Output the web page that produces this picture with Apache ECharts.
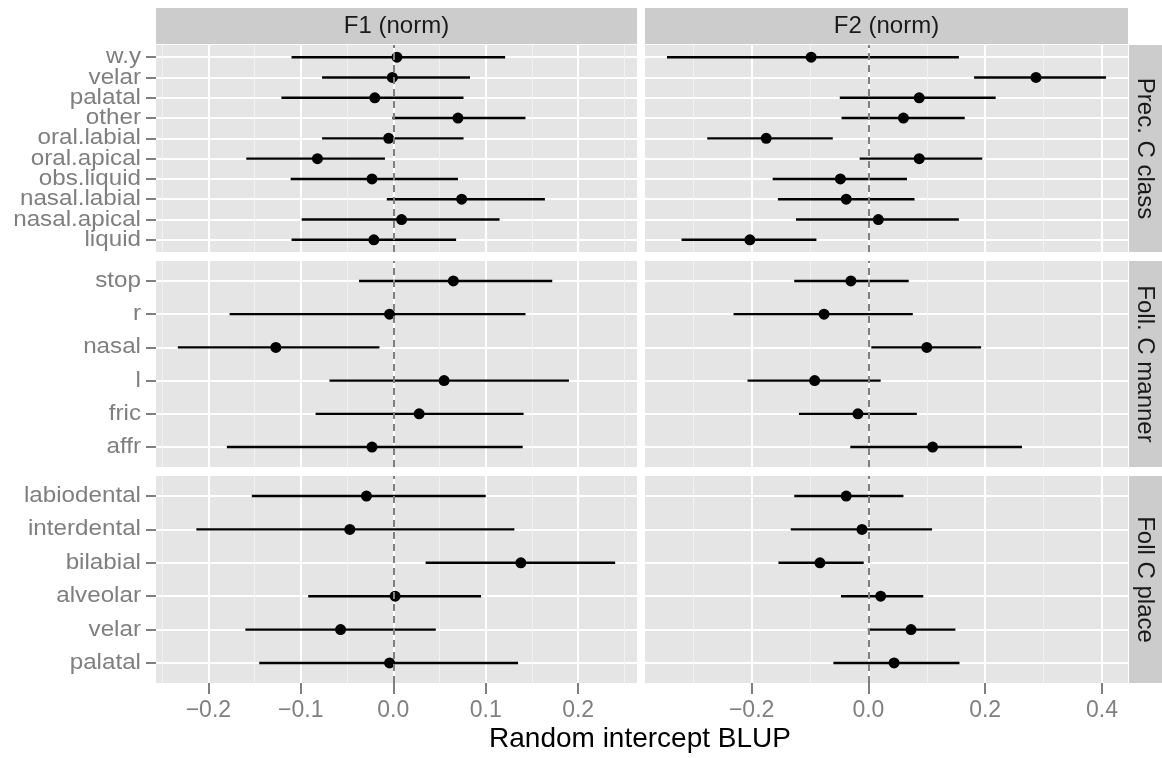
<!DOCTYPE html>
<html>
<head>
<meta charset="utf-8">
<script src="https://cdn.jsdelivr.net/npm/echarts@6/dist/echarts.min.js"></script>
<style>
  html, body { margin: 0; padding: 0; background: #fff; }
  #chart { width: 1162px; height: 758px; }
</style>
</head>
<body>
<div id="chart"></div>
<script>
// facet rows, categories listed bottom -> top
const classCats = ['liquid', 'nasal.apical', 'nasal.labial', 'obs.liquid', 'oral.apical', 'oral.labial', 'other', 'palatal', 'velar', 'w.y'];
const classF1Est = [-0.021, 0.009, 0.074, -0.023, -0.082, -0.005, 0.070, -0.020, -0.001, 0.004];
const classF1Lo  = [-0.110, -0.099, -0.007, -0.111, -0.159, -0.077, -0.001, -0.121, -0.077, -0.110];
const classF1Hi  = [0.068, 0.115, 0.164, 0.070, -0.009, 0.076, 0.143, 0.076, 0.083, 0.121];
const classF2Est = [-0.203, 0.017, -0.038, -0.048, 0.087, -0.175, 0.060, 0.087, 0.287, -0.098];
const classF2Lo  = [-0.320, -0.124, -0.155, -0.164, -0.015, -0.276, -0.046, -0.049, 0.181, -0.345];
const classF2Hi  = [-0.089, 0.155, 0.079, 0.066, 0.195, -0.061, 0.165, 0.218, 0.407, 0.155];

const mannerCats = ['affr', 'fric', 'l', 'nasal', 'r', 'stop'];
const mannerF1Est = [-0.023, 0.028, 0.055, -0.127, -0.004, 0.065];
const mannerF1Lo  = [-0.180, -0.084, -0.069, -0.233, -0.177, -0.037];
const mannerF1Hi  = [0.140, 0.141, 0.190, -0.015, 0.143, 0.172];
const mannerF2Est = [0.110, -0.018, -0.092, 0.100, -0.076, -0.030];
const mannerF2Lo  = [-0.031, -0.119, -0.207, 0.005, -0.231, -0.127];
const mannerF2Hi  = [0.263, 0.083, 0.021, 0.193, 0.076, 0.069];

const placeCats = ['palatal', 'velar', 'alveolar', 'bilabial', 'interdental', 'labiodental'];
const placeF1Est = [-0.004, -0.057, 0.002, 0.138, -0.047, -0.029];
const placeF1Lo  = [-0.145, -0.160, -0.092, 0.035, -0.213, -0.153];
const placeF1Hi  = [0.135, 0.046, 0.095, 0.240, 0.131, 0.100];
const placeF2Est = [0.044, 0.073, 0.021, -0.083, -0.011, -0.038];
const placeF2Lo  = [-0.060, -0.001, -0.047, -0.154, -0.133, -0.127];
const placeF2Hi  = [0.156, 0.149, 0.094, -0.008, 0.109, 0.060];

const colTitles = ['F1 (norm)', 'F2 (norm)'];
const rowTitles = ['Prec. C class', 'Foll. C manner', 'Foll C place'];
const f1Ticks = [-0.2, -0.1, 0, 0.1, 0.2];
const f2Ticks = [-0.2, 0, 0.2, 0.4];

const rows = [
  { cats: classCats, cols: [[classF1Est, classF1Lo, classF1Hi], [classF2Est, classF2Lo, classF2Hi]] },
  { cats: mannerCats, cols: [[mannerF1Est, mannerF1Lo, mannerF1Hi], [mannerF2Est, mannerF2Lo, mannerF2Hi]] },
  { cats: placeCats, cols: [[placeF1Est, placeF1Lo, placeF1Hi], [placeF2Est, placeF2Lo, placeF2Hi]] }
];
const colTicks = [f1Ticks, f2Ticks];

// layout (px)
const colLeft = [156, 645];
const colWidth = [481, 483];
const rowTop = [45, 261, 476];
const rowHeight = [207, 206, 207];

const FONT = 'Liberation Sans';
const GREY = '#7f7f7f';

// x limits per column, ggplot style 5% expansion
const colRange = [0, 1].map(c => {
  let lo = Infinity, hi = -Infinity;
  rows.forEach(r => {
    lo = Math.min(lo, ...r.cols[c][1]);
    hi = Math.max(hi, ...r.cols[c][2]);
  });
  const pad = (hi - lo) * 0.05;
  return [lo - pad, hi + pad];
});

const fmtX = v => (v < 0 ? '\u2212' : '') + Math.abs(v).toFixed(1);

const grid = [], xAxis = [], yAxis = [], series = [], graphic = [];

rows.forEach((row, r) => {
  [0, 1].forEach(c => {
    const g = r * 2 + c;
    const bottom = r === rows.length - 1;
    const left = c === 0;
    grid.push({
      left: colLeft[c], top: rowTop[r], width: colWidth[c], height: rowHeight[r],
      show: true, backgroundColor: '#e5e5e5', borderWidth: 0
    });
    xAxis.push({
      gridIndex: g, type: 'value', position: 'bottom',
      min: colRange[c][0], max: colRange[c][1], splitNumber: 5,
      axisLine: { show: false, onZero: false },
      axisTick: { show: bottom, inside: false, length: 11, customValues: colTicks[c], lineStyle: { color: GREY, width: 2 } },
      axisLabel: { show: bottom, customValues: colTicks[c], color: GREY, fontSize: 23, fontFamily: FONT, margin: 16,
        showMinLabel: true, showMaxLabel: true, formatter: fmtX },
      splitLine: { show: true, lineStyle: { color: '#ffffff', width: 2 } },
      minorTick: { show: false, splitNumber: 2 },
      minorSplitLine: { show: true, lineStyle: { color: '#f2f2f2', width: 1 } }
    });
    const idx = row.cats.map((_, i) => i);
    yAxis.push({
      gridIndex: g, type: 'value', position: 'left',
      min: -0.6, max: row.cats.length - 0.4,
      axisLine: { show: false, onZero: false },
      axisTick: { show: left, inside: false, length: 10, customValues: idx, lineStyle: { color: GREY, width: 2 } },
      axisLabel: { show: false },
      splitLine: { show: true, lineStyle: { color: '#ffffff', width: 2 } }
    });
    const [est, lo, hi] = row.cols[c];
    series.push({
      type: 'custom', xAxisIndex: g, yAxisIndex: g, z: 3,
      data: row.cats.map((_, i) => [lo[i], hi[i], i]),
      encode: { x: [0, 1], y: 2 },
      renderItem: (params, api) => {
        const a = api.coord([api.value(0), api.value(2)]);
        const b = api.coord([api.value(1), api.value(2)]);
        return { type: 'line', shape: { x1: a[0], y1: a[1], x2: b[0], y2: b[1] },
          style: { stroke: '#000', lineWidth: 2.4 } };
      },
      markLine: {
        silent: true, symbol: 'none', label: { show: false }, animation: false,
        lineStyle: { type: [7, 5], color: GREY, width: 2 },
        data: [{ xAxis: 0 }]
      }
    });
    series.push({
      type: 'scatter', xAxisIndex: g, yAxisIndex: g, z: 4,
      symbol: 'circle', symbolSize: 11,
      itemStyle: { color: '#000', opacity: 1 },
      data: row.cats.map((_, i) => [est[i], i])
    });
    if (left) {
      // category tick labels, placed by the y scale (axis labels would be thinned when crowded)
      series.push({
        type: 'custom', xAxisIndex: g, yAxisIndex: g, clip: false, silent: true,
        data: row.cats.map((_, i) => [colRange[c][0], i]),
        encode: { x: 0, y: 1 },
        renderItem: (params, api) => {
          const p = api.coord([api.value(0), api.value(1)]);
          return { type: 'text', x: p[0] - 15, y: p[1], scaleX: 1.1,
            style: { text: row.cats[params.dataIndex], fill: GREY, font: '22px "Liberation Sans"',
              align: 'right', verticalAlign: 'middle' } };
        }
      });
    }
  });
});

// column strips
colTitles.forEach((t, c) => {
  graphic.push({ type: 'rect', left: colLeft[c], top: 8, shape: { width: colWidth[c], height: 36 },
    style: { fill: '#cccccc' }, silent: true });
  graphic.push({ type: 'text', x: colLeft[c] + colWidth[c] / 2, y: 26,
    style: { text: t, fill: '#1a1a1a', font: '24px "Liberation Sans"', align: 'center', verticalAlign: 'middle' }, silent: true });
});
// row strips
rowTitles.forEach((t, r) => {
  graphic.push({ type: 'rect', left: 1129, top: rowTop[r], shape: { width: 33, height: rowHeight[r] },
    style: { fill: '#cccccc' }, silent: true });
  graphic.push({ type: 'text', x: 1145, y: rowTop[r] + rowHeight[r] / 2, rotation: -Math.PI / 2,
    style: { text: t, fill: '#1a1a1a', font: '24px "Liberation Sans"', align: 'center', verticalAlign: 'middle' }, silent: true });
});
// axis title
graphic.push({ type: 'text', x: 640, y: 739,
  style: { text: 'Random intercept BLUP', fill: '#000', font: '28px "Liberation Sans"', align: 'center', verticalAlign: 'middle' }, silent: true });

const chart = echarts.init(document.getElementById('chart'), null, { renderer: 'canvas' });
chart.setOption({
  animation: false,
  backgroundColor: '#ffffff',
  textStyle: { fontFamily: FONT },
  grid, xAxis, yAxis, series, graphic
});
</script>
</body>
</html>
